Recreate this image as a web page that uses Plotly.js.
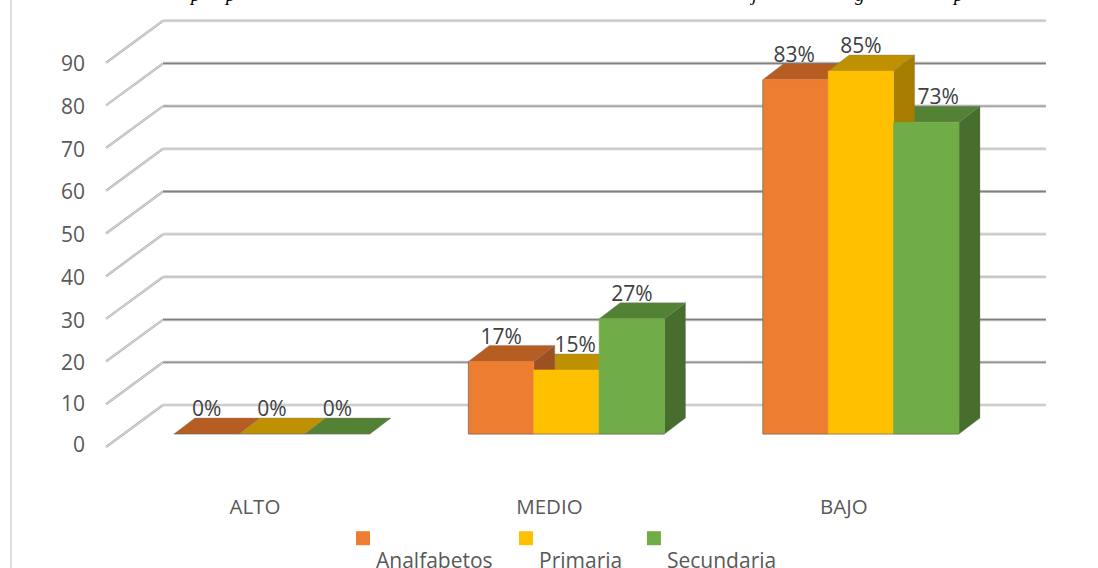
<!DOCTYPE html>
<html>
<head>
<meta charset="utf-8">
<script src="https://cdn.plot.ly/plotly-3.0.1.min.js"></script>
<style>html,body{margin:0;padding:0;background:#fff;overflow:hidden}</style>
</head>
<body>
<div id="chart" style="width:1098px;height:568px"></div>
<script>
// ---- data ----
const categories = ['ALTO', 'MEDIO', 'BAJO'];
const seriesNames = ['Analfabetos', 'Primaria', 'Secundaria'];
const analfabetos = [0, 17, 83];
const primaria = [0, 15, 85];
const secundaria = [0, 27, 73];
const seriesValues = [analfabetos, primaria, secundaria];
const yLevels = [0, 10, 20, 30, 40, 50, 60, 70, 80, 90];
const yLabelOffsets = [0.6, 0.1, -0.3, -0.4, -0.3, -0.2, -0.2, -0.3, -0.4, -0.3];

// ---- styles ----
const fontFam = 'Open Sans, Noto Sans, sans-serif';
const frontColors = ['#ED7D31', '#FFC000', '#70AD47'];
const topColors = ['#B55D23', '#BF9000', '#548235'];
const sideColors = ['#9E5120', '#A67D00', '#476E2D'];
const gridCore = ['#c8c8c8', '#929292', '#808080', '#bcbcbc', '#c8c8c8', '#808080', '#c8c8c8', '#989898', '#808080', '#c8c8c8'];
const gridHalo = ['#dedede', '#d4d4d4', '#c4c4c4', '#dedede', '#dedede', '#c4c4c4', '#dedede', '#d4d4d4', '#c4c4c4', '#dedede'];
const labelNudge = [[0, 0, 0], [0, 0.03, 0], [-0.005, 0, 0.04]];

// ---- pseudo-3D geometry, in axis units ----
const barW = 0.222, depthX = 0.0713, depthY = 3.75;
const wallX0 = -0.5637, wallX1 = -0.370, wallX2 = 2.628;
const wallFrontY = -3.04, wallBackY = 6.79;

const traces = [];
function poly(xs, ys, fill, line, name) {
  traces.push({
    type: 'scatter', mode: 'lines', x: xs.concat(xs[0]), y: ys.concat(ys[0]),
    fill: 'toself', fillcolor: fill, line: {color: line, width: 0.6},
    hoverinfo: 'skip', showlegend: false, name: name
  });
}

// back wall grid
yLevels.forEach((lv, k) => {
  traces.push({type: 'scatter', mode: 'lines',
    x: [wallX0, wallX1], y: [lv + wallFrontY, lv + wallBackY],
    line: {color: '#b4b4b4', width: 2.4}, hoverinfo: 'skip', showlegend: false});
  traces.push({type: 'scatter', mode: 'lines',
    x: [wallX0, wallX1], y: [lv + wallFrontY, lv + wallBackY],
    line: {color: '#ececec', width: 0.7}, hoverinfo: 'skip', showlegend: false});
  traces.push({type: 'scatter', mode: 'lines',
    x: [wallX1, wallX2], y: [lv + wallBackY, lv + wallBackY],
    line: {color: gridHalo[k], width: 3.2}, hoverinfo: 'skip', showlegend: false});
  traces.push({type: 'scatter', mode: 'lines',
    x: [wallX1, wallX2], y: [lv + wallBackY, lv + wallBackY],
    line: {color: gridCore[k], width: 1.4}, hoverinfo: 'skip', showlegend: false});
});

const edge = 'rgba(120,120,120,0.55)';
categories.forEach((cat, c) => {
  const order = [0, 1, 2].sort((a, b) => seriesValues[a][c] - seriesValues[b][c]);
  // shortest bar's top and side first, so a taller neighbour overlaps it
  order.forEach(s => {
    const x0 = c + (s - 1.5) * barW, x1 = x0 + barW, v = seriesValues[s][c];
    poly([x0, x1, x1 + depthX, x0 + depthX], [v, v, v + depthY, v + depthY], topColors[s], edge, seriesNames[s]);
    if (v > 0) poly([x1, x1 + depthX, x1 + depthX, x1], [0, depthY, v + depthY, v], sideColors[s], edge, seriesNames[s]);
  });
  // fronts last
  [0, 1, 2].forEach(s => {
    const x0 = c + (s - 1.5) * barW, x1 = x0 + barW, v = seriesValues[s][c];
    if (v > 0) poly([x0, x1, x1, x0], [0, 0, v, v], frontColors[s], frontColors[s], seriesNames[s]);
  });
  // grey outline along the left and bottom of the group
  const first = seriesValues[0][c];
  const xL = c - 1.5 * barW, xR = c + 1.5 * barW;
  traces.push({type: 'scatter', mode: 'lines',
    x: [xL, xL, xR], y: [first, 0, 0],
    line: {color: first > 0 ? 'rgba(110,110,110,0.7)' : 'rgba(110,110,110,0.5)', width: 1},
    hoverinfo: 'skip', showlegend: false});
});

// data labels
seriesValues.forEach((vals, s) => {
  traces.push({
    type: 'scatter', mode: 'text', showlegend: false, hoverinfo: 'skip', cliponaxis: false,
    x: categories.map((_, c) => c + (s - 1) * barW + labelNudge[c][s]),
    y: vals.map(v => v + 5.4),
    text: vals.map(v => v + '%'),
    textposition: 'middle center',
    textfont: {family: fontFam, size: 21, color: '#404040'}
  });
});

// legend swatches
seriesNames.forEach((n, s) => {
  traces.push({
    type: 'scatter', mode: 'markers', showlegend: false, hoverinfo: 'skip', cliponaxis: false,
    x: [[0.309, 0.8625, 1.297][s]], y: [-24.4], name: n,
    marker: {symbol: 'square', size: 14, color: frontColors[s]}
  });
});

const legendText = seriesNames.map((n, s) => ({
  text: n, xref: 'x', yref: 'y', x: [0.3463, 0.8998, 1.3344][s], y: -29.6,
  xanchor: 'left', yanchor: 'middle', showarrow: false, align: 'left',
  font: {family: fontFam, size: 21, color: '#595959'}
}));

// caption cut off by the top edge of the picture: only descenders show
const captionBits = [['p', 195], ['p', 230], ['j', 753], ['g', 860], ['p', 958]];
const caption = captionBits.map(b => ({
  text: '<i>' + b[0] + '</i>', xref: 'paper', yref: 'paper',
  x: (b[1] - 90) / 1008, y: 1, xanchor: 'center', yanchor: 'bottom', yshift: -7,
  showarrow: false, font: {family: 'Liberation Serif, serif', size: 19, color: '#000'}
}));

const layout = {
  width: 1098, height: 568,
  margin: {l: 90, r: 0, t: 0, b: 0, pad: 0},
  paper_bgcolor: '#fff', plot_bgcolor: '#fff', showlegend: false,
  xaxis: {
    range: [-0.618, 2.805], showgrid: false, zeroline: false, showline: false, ticks: '',
    anchor: 'free', position: 0.1338,
    tickmode: 'array', tickvals: categories.map((_, c) => c - 0.058), ticktext: categories,
    tickfont: {family: fontFam, size: 20.5, color: '#595959'}, fixedrange: true
  },
  yaxis: {
    range: [-31.38, 101.64], showgrid: false, zeroline: false, showline: false, ticks: '',
    ticklabelstandoff: 4,
    tickmode: 'array', tickvals: yLevels.map((lv, k) => lv + wallFrontY + yLabelOffsets[k]),
    ticktext: yLevels.map(String),
    tickfont: {family: fontFam, size: 21, color: '#595959'}, fixedrange: true
  },
  annotations: legendText.concat(caption),
  shapes: [{type: 'line', xref: 'paper', yref: 'paper', x0: (11 - 90) / 1008, x1: (11 - 90) / 1008, y0: 0, y1: 1,
    line: {color: '#dedede', width: 2}}]
};
Plotly.newPlot('chart', traces, layout, {displayModeBar: false, staticPlot: true});
</script>
</body>
</html>
